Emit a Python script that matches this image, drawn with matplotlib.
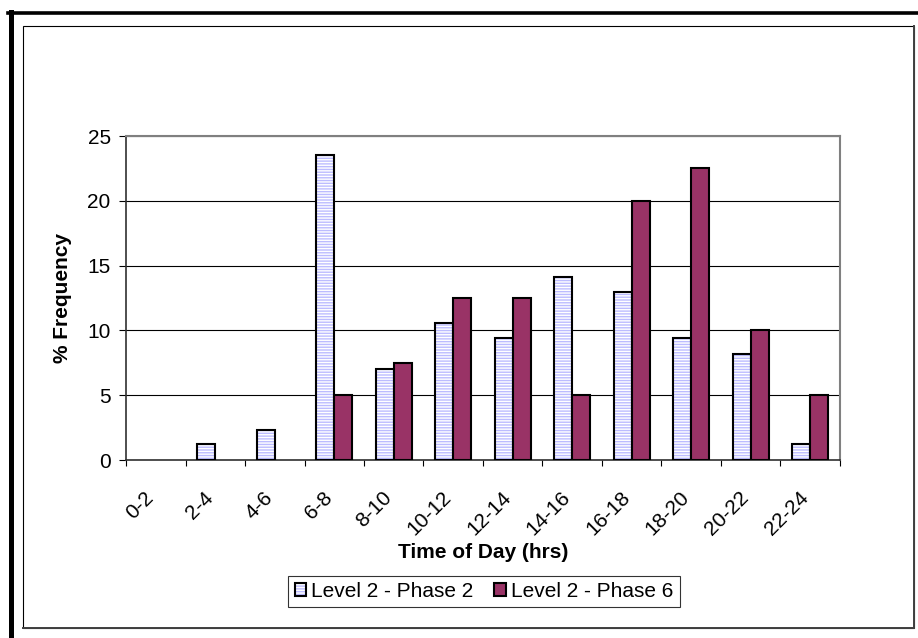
"""Time-of-day frequency bars for Level 2 phases."""

import matplotlib

matplotlib.use("Agg")

import matplotlib.pyplot as plt
import numpy as np
from matplotlib.lines import Line2D
from matplotlib.patches import Patch, Rectangle
from matplotlib.transforms import ScaledTranslation

plt.rcParams["font.family"] = ["Liberation Sans", "DejaVu Sans"]
plt.rcParams["hatch.linewidth"] = 1.0

time_bins = [
  "0-2", "2-4", "4-6", "6-8", "8-10", "10-12",
  "12-14", "14-16", "16-18", "18-20", "20-22", "22-24",
]
phase2 = [0, 1.2, 2.35, 23.5, 7.05, 10.6, 9.4, 14.1, 12.95, 9.4, 8.2, 1.2]
phase6 = [0, 0, 0, 5, 7.5, 12.5, 12.5, 5, 20, 22.5, 10, 5]
series_names = ["Level 2 - Phase 2", "Level 2 - Phase 6"]

W, H = 918, 638
FS = 15
LAVENDER = "#BCBCFF"
MAROON = "#993366"


def px(x, y):
  return x / W, 1 - y / H


def hide_empty(container):
  # Excel draws nothing for a zero-height bar
  for patch in container.patches:
    if patch.get_height() == 0:
      patch.set_visible(False)


def main() -> None:
  fig = plt.figure(figsize=(W / 100, H / 100), dpi=100)
  left, top = px(126, 136)
  right, bottom = px(840, 460)
  ax = fig.add_axes([left, bottom, right - left, top - bottom])

  x = np.arange(len(time_bins))
  width = 0.30
  # striped fill first, then the black outline on top
  fill2 = ax.bar(x - width / 2, phase2, width, color=LAVENDER,
                 edgecolor="white", hatch="------", linewidth=0, zorder=3)
  edge2 = ax.bar(x - width / 2, phase2, width, fill=False, edgecolor="black",
                 linewidth=1.5, zorder=4)
  bars6 = ax.bar(x + width / 2, phase6, width, color=MAROON,
                 edgecolor="black", linewidth=1.5, zorder=4)
  for container in (fill2, edge2, bars6):
    hide_empty(container)

  ax.set_xlim(-0.5, len(time_bins) - 0.5)
  ax.set_ylim(0, 25)
  ax.set_yticks(range(0, 26, 5))
  ax.grid(axis="y", color="black", linewidth=0.8, zorder=1)
  ax.set_axisbelow(True)

  ax.set_xticks(x, time_bins, rotation=45, ha="right", va="center",
                rotation_mode="anchor")
  ax.set_xticks(np.arange(len(time_bins) + 1) - 0.5, minor=True)
  ax.tick_params(axis="x", which="major", length=0, pad=25)
  ax.tick_params(axis="x", which="minor", length=4.5, width=0.8,
                 direction="out")
  ax.tick_params(axis="y", length=5, width=0.8, pad=6, direction="out")
  ax.tick_params(labelsize=FS)
  shift = ScaledTranslation(-5 / 100, 0, fig.dpi_scale_trans)
  for label in ax.get_xticklabels():
    label.set_transform(label.get_transform() + shift)

  for spine in ("top", "right"):
    ax.spines[spine].set_color("#808080")
    ax.spines[spine].set_linewidth(1.5)
  ax.spines["left"].set_color("#303030")
  ax.spines["left"].set_linewidth(1.2)
  ax.spines["bottom"].set_color("#303030")
  ax.spines["bottom"].set_linewidth(1.2)

  fig.text(*px(63, 298), "% Frequency", rotation=90, ha="center",
           va="center", fontsize=FS, fontweight="bold")
  fig.text(*px(483, 553), "Time of Day (hrs)", ha="center", va="center",
           fontsize=FS, fontweight="bold")

  handles = [
    (Patch(facecolor=LAVENDER, edgecolor="white", hatch="------", linewidth=0),
     Patch(fill=False, edgecolor="black", linewidth=1.5)),
    Patch(facecolor=MAROON, edgecolor="black", linewidth=1.5),
  ]
  legend = fig.legend(
    handles, series_names, loc="center", bbox_to_anchor=px(484, 591.5),
    ncol=2, fontsize=FS, frameon=True, fancybox=False, edgecolor="black",
    handlelength=0.55, handleheight=0.55, handletextpad=0.25,
    columnspacing=1.0, borderpad=0.3, borderaxespad=0,
  )
  legend.get_frame().set_linewidth(0.8)

  # chart frame: thin inner border, heavy outer border on left and top
  x0, y0 = px(23, 628)
  x1, y1 = px(914, 26)
  fig.add_artist(Rectangle((x0, y0), x1 - x0, y1 - y0, fill=False,
                           edgecolor="black", linewidth=0.8,
                           transform=fig.transFigure))
  fig.add_artist(Line2D([x1, x1], [y0, y1], color="#404040", linewidth=1.4,
                        transform=fig.transFigure))
  fig.add_artist(Line2D([x0, x1], [y0, y0], color="#404040", linewidth=1.4,
                        transform=fig.transFigure))
  fig.add_artist(Line2D(*zip(px(10.8, 11.7), px(10.8, 638)), color="black",
                        linewidth=3.6, transform=fig.transFigure))
  fig.add_artist(Line2D(*zip(px(8.3, 13.4), px(918, 13.4)), color="black",
                        linewidth=2.6, transform=fig.transFigure))

  fig.savefig("out.png", dpi=100)
  plt.close(fig)


if __name__ == "__main__":
  main()
